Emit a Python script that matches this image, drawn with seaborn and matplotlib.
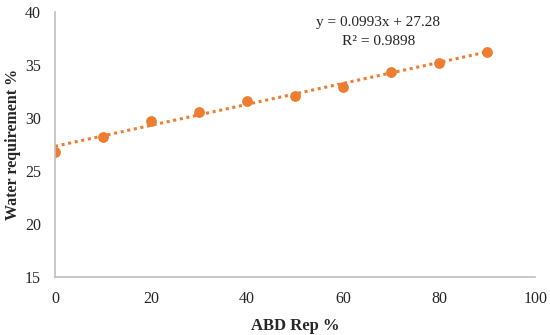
import matplotlib
matplotlib.use("Agg")
import pandas as pd
from matplotlib import pyplot as plt
import seaborn as sns

# data
abd_rep = [0, 10, 20, 30, 40, 50, 60, 70, 80, 90]
water_req = [26.82, 28.24, 29.75, 30.6, 31.63, 32.04, 32.96, 34.31, 35.22, 36.19]
x_ticks = [0, 20, 40, 60, 80, 100]
y_ticks = [15, 20, 25, 30, 35, 40]

data = pd.DataFrame({"x": abd_rep, "y": water_req})

sns.set_style("white")
plt.rcParams["font.family"] = ["Liberation Serif", "DejaVu Serif"]

orange = "#ED7D31"
fig = plt.figure(figsize=(5.5, 3.35), dpi=100)
ax = fig.add_axes([0.1, 0.174, 0.873, 0.79])

sns.regplot(x="x", y="y", data=data, ax=ax, ci=None, color=orange,
            scatter_kws={"s": 60, "alpha": 1, "linewidths": 0},
            line_kws={"linestyle": (0, (1, 1.2)), "linewidth": 2.2})

ax.set_xlim(0, 100)
ax.set_ylim(15, 40)
ax.set_xticks(x_ticks)
ax.set_yticks(y_ticks)
ax.tick_params(length=0, labelsize=11.5, pad=10)
ax.set_xlabel("ABD Rep %", fontsize=12, fontweight="bold", labelpad=8)
ax.set_ylabel("Water requirement %", fontsize=11.5, fontweight="bold", va="center")
ax.yaxis.set_label_coords(-0.088, 0.5)

for side in ["top", "right"]:
    ax.spines[side].set_visible(False)
for side in ["left", "bottom"]:
    ax.spines[side].set_color("#BFBFBF")
    ax.spines[side].set_linewidth(1.2)

ax.text(67.3, 39.0, "y = 0.0993x + 27.28", ha="center", va="center", fontsize=11)
ax.text(67.3, 37.25, "R² = 0.9898", ha="center", va="center", fontsize=11)

fig.savefig("out.png", dpi=100)
